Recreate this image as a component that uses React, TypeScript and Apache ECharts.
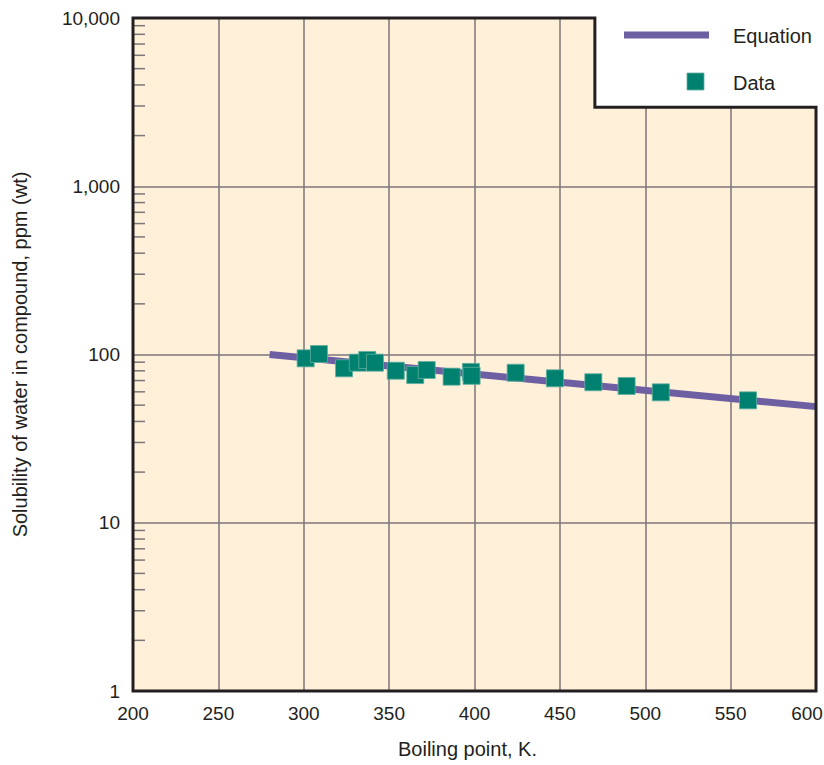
import React, { useEffect, useRef } from "react";
import * as echarts from "echarts";

// Equation line (boiling point K, solubility ppm)
const equationT = [280, 600];
const equationS = [100, 49];

// Data points
const dataT = [301.1, 308.9, 323.6, 331.6, 337.2, 341.7, 353.9, 365.3, 372.0, 386.6, 397.9, 398.3, 424.1, 447.1, 469.6, 489.1, 509.1, 560.2];
const dataS = [94.9, 100.7, 82.8, 89.4, 92.8, 89.4, 80.1, 75.5, 80.9, 73.8, 78.8, 74.7, 77.9, 72.2, 68.4, 65.0, 59.6, 53.4];

// Axis settings
const xMin = 200;
const xMax = 600;
const xInterval = 50;
const yMin = 1;
const yMax = 10000;
const decades = [1, 10, 100, 1000];
const minorMultipliers = [2, 3, 4, 5, 6, 7, 8, 9];

// Legend-box notch corner (in data units)
const notchT = 470.5;
const notchS = 2950;

const FONT = "Liberation Sans, Arial, Helvetica, sans-serif";
const TEXT = "#231f20";
const GRID = "#7d7577";
const BORDER = "#231f20";
const BEIGE = "#fef0d9";
const PURPLE = "#6e5fa3";
const TEAL = "#00806f";

export default function App() {
  const ref = useRef<HTMLDivElement>(null);

  useEffect(() => {
    if (!ref.current) return;
    document.body.style.margin = "0";
    document.body.style.overflow = "hidden";
    const chart = echarts.init(ref.current, undefined, { renderer: "svg", width: 824, height: 765 });

    const minorTicks: number[][] = [];
    decades.forEach((d) => minorMultipliers.forEach((m) => minorTicks.push([xMin, d * m])));

    const option: any = {
      animation: false,
      grid: {
        left: 133,
        right: 8,
        top: 18,
        bottom: 74,
        show: true,
        backgroundColor: BEIGE,
        borderWidth: 0,
        containLabel: false,
        outerBoundsMode: "none",
      },
      xAxis: {
        type: "value",
        min: xMin,
        max: xMax,
        interval: xInterval,
        name: "Boiling point, K.",
        nameLocation: "middle",
        nameGap: 48,
        nameTextStyle: { fontFamily: FONT, fontSize: 20, color: TEXT, padding: [0, 14, 0, 0] },
        axisLine: { show: false },
        axisTick: { show: false },
        axisLabel: {
          fontFamily: FONT,
          fontSize: 19,
          color: TEXT,
          margin: 13,
          formatter: (v: number) => (v === xMax ? `{r|${v}}` : String(v)),
          rich: { r: { fontFamily: FONT, fontSize: 19, color: TEXT, padding: [0, 18, 0, 0] } },
        },
        splitLine: { show: true, lineStyle: { color: GRID, width: 1.5 } },
      },
      yAxis: {
        type: "log",
        logBase: 10,
        min: yMin,
        max: yMax,
        name: "Solubility of water in compound, ppm (wt)",
        nameLocation: "middle",
        nameGap: 103,
        nameTextStyle: { fontFamily: FONT, fontSize: 20, color: TEXT },
        axisLine: { show: false },
        axisTick: { show: false },
        axisLabel: {
          fontFamily: FONT,
          fontSize: 19,
          color: TEXT,
          margin: 13,
          formatter: (v: number) => Math.round(v).toLocaleString("en-US"),
        },
        splitLine: { show: true, lineStyle: { color: GRID, width: 1.5 } },
        minorTick: { show: false },
      },
      series: [
        {
          type: "custom",
          name: "minorTicks",
          z: 1,
          silent: true,
          data: minorTicks,
          renderItem: (params: any, api: any) => {
            const p = api.coord([api.value(0), api.value(1)]);
            return {
              type: "line",
              shape: { x1: p[0], y1: p[1], x2: p[0] + 12, y2: p[1] },
              style: { stroke: GRID, lineWidth: 1.5 },
            };
          },
        },
        {
          type: "line",
          name: "Equation",
          z: 3,
          data: equationT.map((t, i) => [t, equationS[i]]),
          showSymbol: false,
          symbol: "none",
          lineStyle: { color: PURPLE, width: 7 },
        },
        {
          type: "scatter",
          name: "Data",
          z: 4,
          data: dataT.map((t, i) => [t, dataS[i]]),
          symbol: "rect",
          symbolSize: 17,
          itemStyle: { color: TEAL, opacity: 1, borderColor: "#5fae9f", borderWidth: 0.8 },
        },
        {
          type: "custom",
          name: "frame",
          z: 10,
          silent: true,
          clip: false,
          data: [[notchT, notchS]],
          renderItem: (params: any, api: any) => {
            const tl = api.coord([xMin, yMax]);
            const br = api.coord([xMax, yMin]);
            const n = api.coord([api.value(0), api.value(1)]);
            return {
              type: "group",
              children: [
                {
                  type: "rect",
                  shape: { x: n[0], y: tl[1] - 4, width: br[0] - n[0] + 6, height: n[1] - tl[1] + 4 },
                  style: { fill: "#ffffff" },
                },
                {
                  type: "polygon",
                  shape: {
                    points: [
                      [tl[0], tl[1]],
                      [n[0], tl[1]],
                      [n[0], n[1]],
                      [br[0], n[1]],
                      [br[0], br[1]],
                      [tl[0], br[1]],
                    ],
                  },
                  style: { fill: "none", stroke: BORDER, lineWidth: 3, lineJoin: "miter" },
                },
              ],
            };
          },
        },
      ],
      graphic: [
        {
          type: "rect",
          z: 100,
          shape: { x: 624, y: 31.5, width: 85, height: 7 },
          style: { fill: PURPLE },
        },
        {
          type: "text",
          z: 100,
          x: 733,
          y: 36,
          style: { text: "Equation", font: `20px ${FONT}`, fill: TEXT, verticalAlign: "middle" },
        },
        {
          type: "rect",
          z: 100,
          shape: { x: 687, y: 73, width: 17, height: 17 },
          style: { fill: TEAL, stroke: "#5fae9f", lineWidth: 0.8 },
        },
        {
          type: "text",
          z: 100,
          x: 733,
          y: 83,
          style: { text: "Data", font: `20px ${FONT}`, fill: TEXT, verticalAlign: "middle" },
        },
      ],
    };

    chart.setOption(option);
    return () => chart.dispose();
  }, []);

  return <div ref={ref} style={{ width: 824, height: 765, overflow: "hidden" }} />;
}
